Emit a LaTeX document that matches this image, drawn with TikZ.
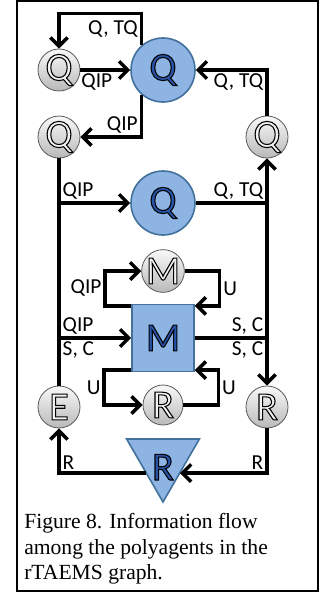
\documentclass[tikz,border=0pt]{standalone}
\usepackage{fontspec}
\setmainfont{Liberation Serif}
\newfontfamily\lblfont{Carlito}
\usetikzlibrary{arrows.meta,shapes.geometric}
\definecolor{nodeblue}{RGB}{142,180,227}
\definecolor{edgeblue}{RGB}{65,113,156}
\definecolor{letterblue}{RGB}{40,85,170}
% outlined letter: fill in #1, black stroke
\newcommand{\outletter}[2]{{\color{#1}\special{pdf:literal direct q 2 Tr 0.8 w 0 G}#2\special{pdf:literal direct Q}}}
\begin{document}
\begin{tikzpicture}[x=0.75pt,y=-0.75pt,
    letter/.style={font=\lblfont\fontsize{30}{30}\selectfont},
    small/.style={circle,draw=gray!70!black,line width=0.6pt,top color=gray!5,bottom color=gray!55,minimum size=31.5pt,inner sep=0pt,letter},
    big/.style={circle,draw=edgeblue,line width=1.2pt,fill=nodeblue,minimum size=48pt,inner sep=0pt,letter},
    boxnode/.style={rectangle,draw=edgeblue,line width=1.2pt,fill=nodeblue,minimum width=46.5pt,minimum height=50pt,inner sep=0pt,letter},
    tri/.style={regular polygon,regular polygon sides=3,shape border rotate=180,draw=edgeblue,line width=1.2pt,fill=nodeblue,minimum size=63pt,inner sep=0pt,letter},
    flow/.style={line width=2.6pt,-{Straight Barb[length=6.5pt,width=13pt]}},
    link/.style={line width=2.6pt},
    lbl/.style={font=\lblfont\fontsize{16}{16}\selectfont,inner sep=1.5pt}]
    \useasboundingbox (0,0) rectangle (323,596);
    \draw[line width=1.5pt] (16.5,1) rectangle (317.5,590.5);

    \node[small] (q1) at (59,70) {\outletter{gray!10}{Q}};
    \node[big] (Q1) at (163,70) {\outletter{letterblue}{Q}};
    \node[small] (q2) at (59,137) {\outletter{gray!10}{Q}};
    \node[small] (q3) at (267,137) {\outletter{gray!10}{Q}};
    \node[big] (Q2) at (163,203) {\outletter{letterblue}{Q}};
    \node[small,minimum size=30pt] (m) at (163,271) {\outletter{gray!10}{M}};
    \node[boxnode] (M) at (163,338) {\outletter{letterblue}{M}};
    \node[small,minimum size=30pt] (r) at (163,405) {\outletter{gray!10}{R}};
    \node[small] (e) at (59,407) {\outletter{gray!10}{E}};
    \node[small] (rr) at (267,407) {\outletter{gray!10}{R}};
    \node[tri] (t) at (163,460) {\raisebox{-15pt}[0pt][0pt]{\outletter{letterblue}{R}}};

    \coordinate (l1) at (q2 |- Q2);
    \coordinate (l2) at (q2 |- M);
    \coordinate (r1) at (q3 |- Q2);
    \coordinate (r2) at (q3 |- M);
    \coordinate (tl) at (146,473);
    \coordinate (tr) at (180,473);

    \draw[flow] (Q1.131) -- ++(0,-32) node[lbl,midway,left] {Q, TQ} -| (q1);
    \draw[flow] (q1) -- (Q1) node[lbl,pos=0.33,below] {QIP};
    \draw[flow] (Q1.229) |- (q2) node[lbl,pos=0.5,above left] {QIP};
    \draw[flow] (q3) |- (Q1) node[lbl,pos=0.5,below left] {Q, TQ};

    \draw[link] (q2) -- (e);
    \draw[flow] (l1) -- (Q2) node[lbl,pos=0,above right] {QIP};
    \draw[link] (Q2) -- (r1) node[lbl,pos=1,above left] {Q, TQ};
    \draw[flow] (l2) -- (M) node[lbl,pos=0,above right] {QIP} node[lbl,pos=0,below right] {S, C};
    \draw[link] (M) -- (r2) node[lbl,pos=1,above left] {S, C} node[lbl,pos=1,below left] {S, C};
    \draw[flow] (r2) -- (q3);
    \draw[flow] (r2) -- (rr);

    \draw[flow] ([yshift=-1.5pt]M.north west) -- ++(-26,0) |- (m) node[lbl,pos=0.25,left] {QIP};
    \draw[flow] (m.east) -- ++(35,0) |- ([yshift=-1.5pt]M.north east) node[lbl,pos=0.25,right] {U};
    \draw[flow] ([yshift=1.5pt]M.south west) -- ++(-27,0) |- (r) node[lbl,pos=0.25,left] {U};
    \draw[flow] (r.east) -- ++(35,0) |- ([yshift=1.5pt]M.south east) node[lbl,pos=0.25,right] {U};

    \draw[flow] (rr) |- (tr) node[lbl,pos=0.5,above left] {R};
    \draw[flow] (tl) -| (e) node[lbl,pos=0.5,above right] {R};

    \node[anchor=north west,inner sep=0pt,align=left,font=\fontsize{16.2}{19.2}\selectfont] (cap) at (24,513)
        {Figure 8. Information flow\\among the polyagents in the\\rTAEMS graph.};
\end{tikzpicture}
\end{document}
